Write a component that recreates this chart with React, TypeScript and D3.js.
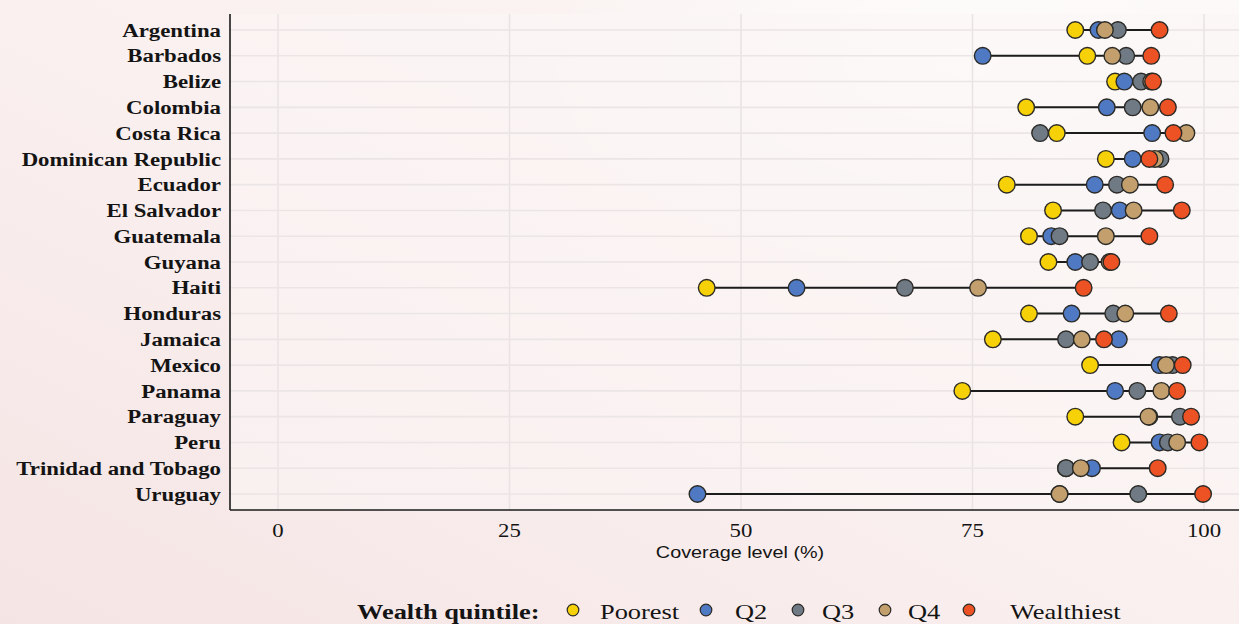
import React from "react";
import * as d3 from "d3";

const countries = [
  "Argentina", "Barbados", "Belize", "Colombia", "Costa Rica",
  "Dominican Republic", "Ecuador", "El Salvador", "Guatemala", "Guyana",
  "Haiti", "Honduras", "Jamaica", "Mexico", "Panama", "Paraguay", "Peru",
  "Trinidad and Tobago", "Uruguay",
];

const poorest = [86.1, 87.4, 90.4, 80.8, 84.1, 89.4, 78.7, 83.7, 81.1, 83.2, 46.3, 81.1, 77.2, 87.7, 73.9, 86.1, 91.1, 85.1, 84.4];
const q2 = [88.6, 76.1, 91.4, 89.5, 94.4, 92.3, 88.2, 90.9, 83.5, 86.1, 56.0, 85.7, 90.8, 95.2, 90.4, 94.1, 95.2, 87.9, 45.3];
const q3 = [90.7, 91.6, 93.2, 92.3, 82.3, 95.3, 90.6, 89.1, 84.4, 87.7, 67.7, 90.2, 85.1, 96.6, 92.8, 97.4, 96.1, 85.1, 92.9];
const q4 = [89.3, 90.1, 94.3, 94.2, 98.1, 94.7, 92.0, 92.4, 89.4, 89.8, 75.6, 91.5, 86.8, 95.9, 95.4, 94.0, 97.1, 86.7, 84.4];
const wealthiest = [95.2, 94.3, 94.5, 96.1, 96.7, 94.1, 95.8, 97.6, 94.1, 90.0, 87.0, 96.2, 89.2, 97.7, 97.1, 98.6, 99.5, 95.0, 99.9];

const quintileNames = ["Poorest", "Q2", "Q3", "Q4", "Wealthiest"];
const quintileColors = ["#f7d108", "#5079c3", "#6f7a85", "#c29f6c", "#ec5224"];
const xTicks = [0, 25, 50, 75, 100];

const W = 1239;
const H = 624;
const panel = { left: 230, right: 1239, top: 14, bottom: 510 };
const STRETCH = 1.2;

const serif = "'Liberation Serif', 'Times New Roman', serif";
const sans = "'Liberation Sans', Arial, sans-serif";

// Text widened horizontally, anchored at (x, y)
function WideText(props: {
  x: number; y: number; anchor?: "start" | "middle" | "end";
  family: string; size: number; weight?: string; children: React.ReactNode;
}) {
  return (
    <g transform={`translate(${props.x},${props.y}) scale(${STRETCH},1)`}>
      <text
        dy="0.35em"
        textAnchor={props.anchor || "start"}
        fontFamily={props.family}
        fontSize={props.size}
        fontWeight={props.weight || "normal"}
        fill="#141414"
      >
        {props.children}
      </text>
    </g>
  );
}

export default function App() {
  const series = [poorest, q2, q3, q4, wealthiest];
  const x = d3.scaleLinear().domain([0, 100]).range([278, 1204]);
  const y = d3.scalePoint<string>().domain(countries).range([30, 494]);

  const rows = countries.map((c, i) => {
    const vals = series.map((s) => s[i]);
    return { c, vals, lo: d3.min(vals) as number, hi: d3.max(vals) as number };
  });

  // legend layout: symbol x, label x
  const legendItems = [
    { sx: 573, tx: 600 },
    { sx: 706, tx: 735 },
    { sx: 798, tx: 822 },
    { sx: 885, tx: 908 },
    { sx: 969, tx: 1010 },
  ];

  return (
    <svg width={W} height={H} style={{ position: "absolute", left: 0, top: 0 }}>
      <defs>
        <linearGradient id="bg" x1="0" y1="1" x2="1" y2="0">
          <stop offset="0" stopColor="#f5e4e4" />
          <stop offset="0.45" stopColor="#f9efee" />
          <stop offset="1" stopColor="#fbf7f6" />
        </linearGradient>
        <radialGradient id="glow" cx="0.78" cy="0.1" r="0.35">
          <stop offset="0" stopColor="#ffffff" stopOpacity="0.7" />
          <stop offset="1" stopColor="#ffffff" stopOpacity="0" />
        </radialGradient>
      </defs>
      <rect width={W} height={H} fill="url(#bg)" />
      <rect width={W} height={H} fill="url(#glow)" />
      <rect x={panel.left} y={panel.top} width={panel.right - panel.left} height={panel.bottom - panel.top} fill="#fbf6f5" opacity={0.55} />

      {/* grid */}
      {xTicks.map((t) => (
        <line key={"vg" + t} x1={x(t)} x2={x(t)} y1={panel.top} y2={panel.bottom} stroke="#e9e3e3" strokeWidth={1.5} />
      ))}
      {countries.map((c) => (
        <line key={"hg" + c} x1={panel.left} x2={panel.right} y1={y(c)} y2={y(c)} stroke="#ebe5e5" strokeWidth={1.6} />
      ))}

      {/* ranges */}
      {rows.map((r) => (
        <line key={"rng" + r.c} x1={x(r.lo)} x2={x(r.hi)} y1={y(r.c)} y2={y(r.c)} stroke="#1c1c1c" strokeWidth={2} />
      ))}

      {/* points */}
      {rows.map((r) =>
        r.vals.map((v, k) => (
          <circle
            key={r.c + k}
            cx={x(v)}
            cy={y(r.c)}
            r={8.3}
            fill={quintileColors[k]}
            stroke="#2b2a26"
            strokeWidth={1.4}
          />
        ))
      )}

      {/* axes */}
      <line x1={panel.left} x2={panel.left} y1={panel.top} y2={panel.bottom} stroke="#1a1a1a" strokeWidth={1.6} />
      <line x1={panel.left} x2={panel.right} y1={panel.bottom} y2={panel.bottom} stroke="#1a1a1a" strokeWidth={1.6} />

      {countries.map((c) => (
        <WideText key={"yl" + c} x={221} y={y(c) as number} anchor="end" family={serif} weight="bold" size={19}>
          {c}
        </WideText>
      ))}

      {xTicks.map((t) => (
        <WideText key={"xl" + t} x={x(t)} y={530} anchor="middle" family={serif} size={19}>
          {t}
        </WideText>
      ))}
      <WideText x={740} y={552} anchor="middle" family={sans} size={16.5}>
        Coverage level (%)
      </WideText>

      {/* legend */}
      <WideText x={357} y={611} family={serif} weight="bold" size={22}>
        Wealth quintile:
      </WideText>
      {legendItems.map((it, k) => (
        <g key={"lg" + k}>
          <circle cx={it.sx} cy={610} r={5.8} fill={quintileColors[k]} stroke="#2b2a26" strokeWidth={1.2} />
          <WideText x={it.tx} y={611} family={serif} size={22}>
            {quintileNames[k]}
          </WideText>
        </g>
      ))}
    </svg>
  );
}
